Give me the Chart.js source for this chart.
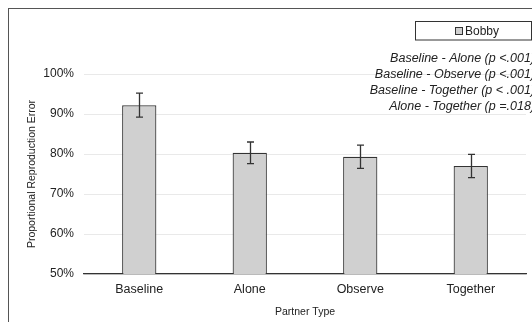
<!DOCTYPE html>
<html lang="en">
<head>
  <meta charset="UTF-8">
  <title>Partner Type</title>
  <script src="https://cdn.jsdelivr.net/npm/chart.js@4.4.1/dist/chart.umd.min.js"></script>
  <style>
    html, body { margin: 0; padding: 0; background: #fff; }
    #wrap { width: 532px; height: 322px; }
  </style>
</head>
<body>
  <div id="wrap"><canvas id="myChart" width="532" height="322"></canvas></div>
  <script>
    const categories = ['Baseline', 'Alone', 'Observe', 'Together'];
    const means = [92.2, 80.3, 79.3, 77.0];
    const errors = [3.0, 2.7, 2.9, 2.9];
    const seriesName = 'Bobby';
    const notes = [
      'Baseline - Alone (p <.001)',
      'Baseline - Observe (p <.001)',
      'Baseline - Together (p < .001)',
      'Alone - Together (p =.018)'
    ];

    const FONT = '"Liberation Sans", Arial, sans-serif';
    const BAR_FILL = '#d0d0d0';
    const DARK = '#333333';

    // error bars, frame, legend box and the p-value notes
    const extras = {
      id: 'extras',
      afterDatasetsDraw(chart) {
        const ctx = chart.ctx;
        const x = chart.scales.x, y = chart.scales.y;
        ctx.save();
        ctx.strokeStyle = DARK;
        ctx.lineWidth = 1.3;
        means.forEach((m, i) => {
          const cx = Math.round(x.getPixelForValue(i)) + 0.5;
          const yt = y.getPixelForValue(m + errors[i]);
          const yb = y.getPixelForValue(m - errors[i]);
          ctx.beginPath();
          ctx.moveTo(cx, yt); ctx.lineTo(cx, yb);
          ctx.moveTo(cx - 3.5, yt); ctx.lineTo(cx + 3.5, yt);
          ctx.moveTo(cx - 3.5, yb); ctx.lineTo(cx + 3.5, yb);
          ctx.stroke();
        });
        ctx.restore();
      },
      afterDraw(chart) {
        const ctx = chart.ctx;
        ctx.save();
        // outer frame (runs off the right and bottom)
        ctx.strokeStyle = '#555';
        ctx.lineWidth = 1;
        ctx.strokeRect(8.5, 8.5, 700, 700);

        // legend box
        ctx.strokeStyle = DARK;
        ctx.strokeRect(415.5, 21.5, 116, 18.5);
        ctx.fillStyle = BAR_FILL;
        ctx.fillRect(455.5, 27.5, 7, 7);
        ctx.strokeRect(455.5, 27.5, 7, 7);
        ctx.fillStyle = '#222';
        ctx.font = '12px ' + FONT;
        ctx.textBaseline = 'middle';
        ctx.textAlign = 'left';
        ctx.fillText(seriesName, 465, 31.5);

        // notes
        ctx.font = 'italic 12.5px ' + FONT;
        ctx.textAlign = 'right';
        notes.forEach((t, i) => ctx.fillText(t, 535, 58.5 + i * 16));
        ctx.restore();
      }
    };

    const ctx = document.getElementById('myChart').getContext('2d');
    const myChart = new Chart(ctx, {
      type: 'bar',
      data: {
        labels: categories,
        datasets: [{
          label: seriesName,
          data: means,
          backgroundColor: BAR_FILL,
          borderColor: DARK,
          borderWidth: 1.2,
          barPercentage: 0.31,
          categoryPercentage: 1
        }]
      },
      options: {
        responsive: false,
        animation: false,
        layout: { padding: { left: 21, right: 6, top: 74, bottom: 4 } },
        plugins: {
          legend: { display: false },
          tooltip: { enabled: false }
        },
        scales: {
          x: {
            grid: { display: false, drawTicks: false },
            border: { display: true, color: DARK, width: 1.2 },
            ticks: { color: '#222', padding: 8, font: { family: FONT, size: 12.5 } },
            title: {
              display: true, text: 'Partner Type', color: '#222',
              font: { family: FONT, size: 10.5 }, padding: { top: 4, bottom: 0 }
            },
            afterFit(scale) { scale.height = 44; }
          },
          y: {
            min: 50, max: 100,
            grid: { color: '#e9e9e9', drawTicks: false },
            border: { display: false },
            ticks: {
              stepSize: 10, padding: 10, color: '#222',
              font: { family: FONT, size: 12 },
              callback: v => v + '%'
            },
            title: {
              display: true, text: 'Proportional Reproduction Error', color: '#222',
              font: { family: FONT, size: 10.5 }, padding: { top: 5, bottom: 0 }
            },
            afterFit(scale) { scale.width = 63; }
          }
        }
      },
      plugins: [extras]
    });
  </script>
</body>
</html>
